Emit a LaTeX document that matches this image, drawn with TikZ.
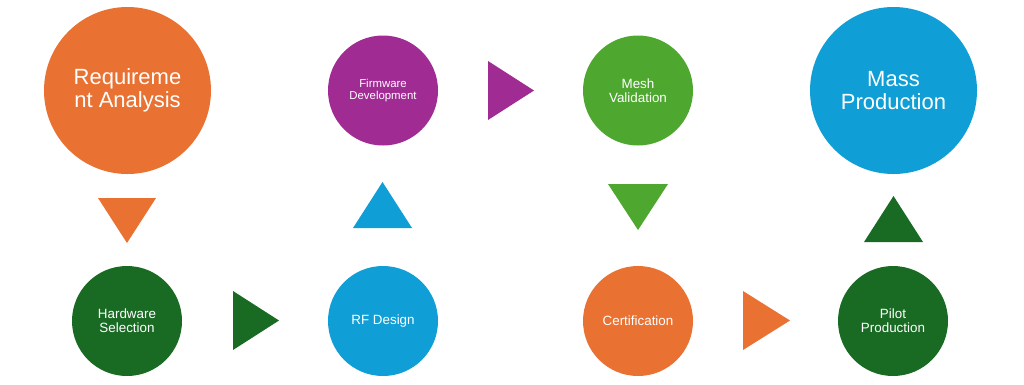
\documentclass[tikz,border=0pt]{standalone}
\usepackage{fontspec}
\setmainfont{Liberation Sans}
\usetikzlibrary{positioning}

\definecolor{stageorange}{HTML}{E97132}
\definecolor{stagepurple}{HTML}{A02B93}
\definecolor{stagegreen}{HTML}{4EA72E}
\definecolor{stageblue}{HTML}{0F9ED5}
\definecolor{stagedkgreen}{HTML}{196B24}

\begin{document}
\begin{tikzpicture}[x=1pt, y=-1pt,
    stage/.style={circle, inner sep=0pt, minimum size=110pt, text=white, align=center,
                  font=\fontsize{13.4}{14.3}\selectfont},
    bigstage/.style={stage, minimum size=167pt, font=\fontsize{22}{23.5}\selectfont}]
				\useasboundingbox (0,0) rectangle (1024,384);
				% top row
				\node[bigstage, fill=stageorange] (req) at (127.5,90.5) {Requireme\\nt Analysis};
				\node[stage, fill=stagepurple, font=\fontsize{11.4}{12.3}\selectfont] (fw) at (383,90.5) {Firmware\\Development};
				\node[stage, fill=stagegreen] (mesh) at (638,90.5) {Mesh\\Validation};
				\node[bigstage, fill=stageblue] (mass) at (893.5,90.5) {Mass\\Production};
				% bottom row
				\node[stage, fill=stagedkgreen] (hw) at (127,321) {Hardware\\Selection};
				\node[stage, fill=stageblue] (rf) at (383,321) {RF Design};
				\node[stage, fill=stageorange] (cert) at (638,321) {Certification};
				\node[stage, fill=stagedkgreen] (pilot) at (893,321) {Pilot\\Production};
				% arrow heads
				\fill[stageorange] (98,198) -- (156,198) -- (127,243) -- cycle;
				\fill[stagedkgreen] (233,291) -- (233,350) -- (279,320.5) -- cycle;
				\fill[stageblue] (353,228) -- (412,228) -- (382.5,182) -- cycle;
				\fill[stagepurple] (488,61) -- (488,120) -- (534,90.5) -- cycle;
				\fill[stagegreen] (608,184) -- (668,184) -- (638,230) -- cycle;
				\fill[stageorange] (743,291) -- (743,350) -- (790,320.5) -- cycle;
				\fill[stagedkgreen] (864,242) -- (923,242) -- (893.5,196) -- cycle;
			\end{tikzpicture}
\end{document}
